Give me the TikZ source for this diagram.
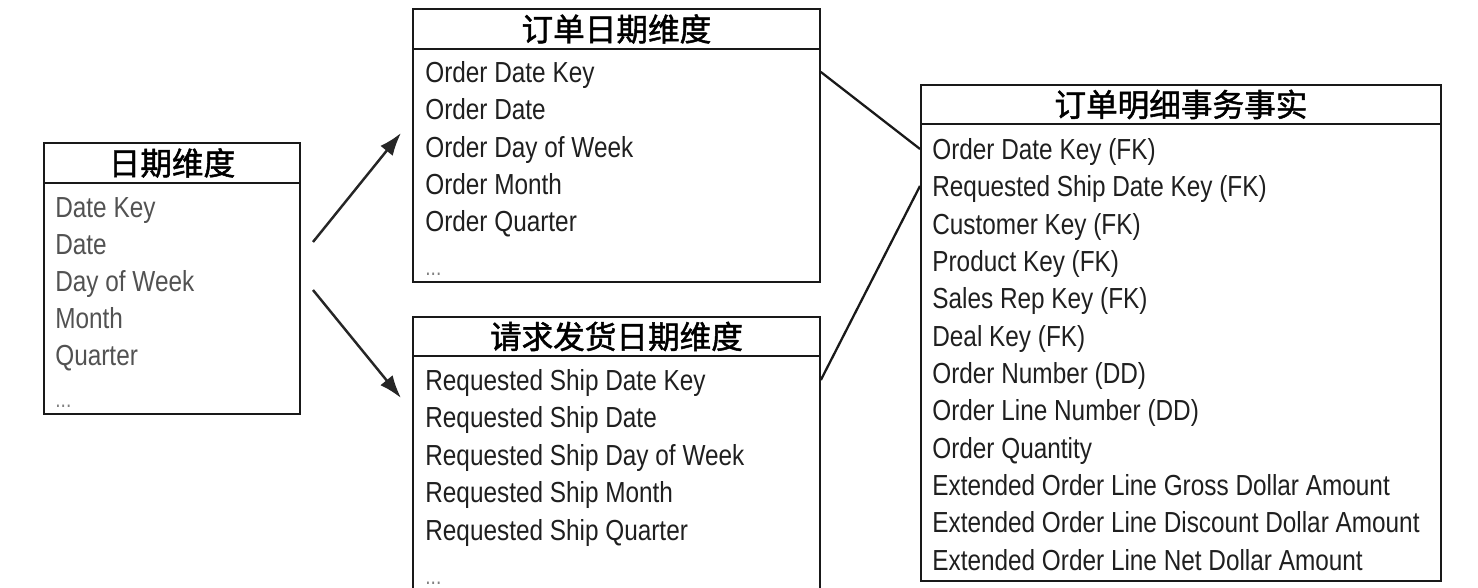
\documentclass[tikz,border=0pt]{standalone}
\usepackage{fontspec}
\setmainfont{Liberation Sans}[FakeStretch=0.84]
\newfontfamily\cjk{Noto Sans CJK SC}[FakeBold=1.5]
\usetikzlibrary{arrows.meta}

\tikzset{
	tablebox/.style={draw=black!90,line width=1.1pt,inner sep=0pt,anchor=north west},
	tablehead/.style={tablebox,font=\cjk\fontsize{18pt}{20pt}\selectfont},
	rowtext/.style={anchor=west,inner sep=0pt,text height=13pt,text depth=1pt,text=black!88,font=\fontsize{16.5pt}{18pt}\selectfont},
	greyrow/.style={rowtext,text=black!68},
	dotrow/.style={rowtext,text=black!50,font=\fontsize{13pt}{14pt}\selectfont},
}

\begin{document}
\begin{tikzpicture}[x=0.02cm,y=-0.02cm]

	\useasboundingbox (0,0) rectangle (1478,588);
	\clip (0,0) rectangle (1478,588);

	% date dimension
	\node[tablebox,minimum width=5.12cm,minimum height=5.42cm] (datebox) at (43,142) {};
	\node[tablehead,minimum width=5.12cm,minimum height=0.8cm] (datehead) at (43,142) {日期维度};
	\node[greyrow] (d1) at (55,207) {Date Key};
	\node[greyrow] (d2) at (55,244) {Date};
	\node[greyrow] (d3) at (55,281) {Day of Week};
	\node[greyrow] (d4) at (55,318) {Month};
	\node[greyrow] (d5) at (55,355) {Quarter};
	\node[dotrow] (d6) at (55,397) {...};

	% order date dimension
	\node[tablebox,minimum width=8.14cm,minimum height=5.46cm] (orderbox) at (412,8) {};
	\node[tablehead,minimum width=8.14cm,minimum height=0.8cm] (orderhead) at (412,8) {订单日期维度};
	\node[rowtext] (o1) at (425,72) {Order Date Key};
	\node[rowtext] (o2) at (425,109) {Order Date};
	\node[rowtext] (o3) at (425,147) {Order Day of Week};
	\node[rowtext] (o4) at (425,184) {Order Month};
	\node[rowtext] (o5) at (425,221) {Order Quarter};
	\node[dotrow] (o6) at (425,265) {...};

	% requested ship date dimension
	\node[tablebox,minimum width=8.14cm,minimum height=5.56cm] (shipbox) at (412,316) {};
	\node[tablehead,minimum width=8.14cm,minimum height=0.78cm] (shiphead) at (412,316) {请求发货日期维度};
	\node[rowtext] (r1) at (425,380) {Requested Ship Date Key};
	\node[rowtext] (r2) at (425,417) {Requested Ship Date};
	\node[rowtext] (r3) at (425,455) {Requested Ship Day of Week};
	\node[rowtext] (r4) at (425,492) {Requested Ship Month};
	\node[rowtext] (r5) at (425,530) {Requested Ship Quarter};
	\node[dotrow] (r6) at (425,574) {...};

	% order line transaction fact
	\node[tablebox,minimum width=10.4cm,minimum height=9.92cm] (factbox) at (920,84) {};
	\node[tablehead,minimum width=10.4cm,minimum height=0.78cm] (facthead) at (920,84) {订单明细事务事实};
	\node[rowtext] (f1) at (932,149) {Order Date Key (FK)};
	\node[rowtext] (f2) at (932,186) {Requested Ship Date Key (FK)};
	\node[rowtext] (f3) at (932,224) {Customer Key (FK)};
	\node[rowtext] (f4) at (932,261) {Product Key (FK)};
	\node[rowtext] (f5) at (932,298) {Sales Rep Key (FK)};
	\node[rowtext] (f6) at (932,336) {Deal Key (FK)};
	\node[rowtext] (f7) at (932,373) {Order Number (DD)};
	\node[rowtext] (f8) at (932,410) {Order Line Number (DD)};
	\node[rowtext] (f9) at (932,448) {Order Quantity};
	\node[rowtext] (f10) at (932,485) {Extended Order Line Gross Dollar Amount};
	\node[rowtext] (f11) at (932,522) {Extended Order Line Discount Dollar Amount};
	\node[rowtext] (f12) at (932,560) {Extended Order Line Net Dollar Amount};

	% role-playing arrows
	\coordinate (upstart) at (313,242);
	\coordinate (upend) at (401,133);
	\coordinate (downstart) at (313,290);
	\coordinate (downend) at (401,398);
	\path[->,>={Latex[length=13pt,width=9pt]},draw=black!85,line width=1.4pt] (upstart) to (upend);
	\path[->,>={Latex[length=13pt,width=9pt]},draw=black!85,line width=1.4pt] (downstart) to (downend);

	% joins to the fact table
	\path[draw=black!90,line width=1.3pt] (orderbox.east |- o1) to (factbox.west |- f1);
	\path[draw=black!90,line width=1.3pt] (shipbox.east |- r1) to (factbox.west |- f2);

\end{tikzpicture}
\end{document}
